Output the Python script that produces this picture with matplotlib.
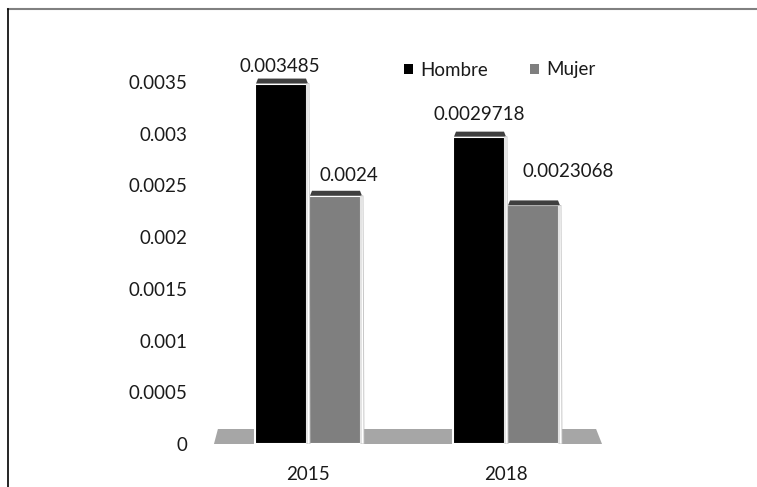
import matplotlib.pyplot as plt
from matplotlib.patches import Polygon, Patch
from matplotlib.lines import Line2D

years = ['2015', '2018']
hombre = [0.003485, 0.0029718]
mujer = [0.0024, 0.0023068]
series_names = ['Hombre', 'Mujer']
yticks = [0, 0.0005, 0.001, 0.0015, 0.002, 0.0025, 0.003, 0.0035]
ytick_labels = ['0', '0.0005', '0.001', '0.0015', '0.002', '0.0025', '0.003', '0.0035']

plt.rcParams['font.family'] = ['Lato', 'DejaVu Sans']
txt = '#1a1a1a'
fs = 13.5

W, H = 757, 487
fig = plt.figure(figsize=(W / 100, H / 100), dpi=100)
ax_l, ax_b, ax_w, ax_h = 189.2, 43.0, 435.6, 413.7
ax = fig.add_axes([ax_l / W, ax_b / H, ax_w / W, ax_h / H])
ax.set_xlim(-0.6, 1.6)
ax.set_ylim(0, 0.004)

# pixel -> data scale
sx = 2.2 / ax_w
sy = 0.004 / ax_h

# floor
fh = 15 * sy
floor = Polygon([[-0.475, 0], [1.485, 0], [1.455, fh], [-0.455, fh]],
                closed=True, facecolor='#a6a6a6', edgecolor='none', zorder=1)
ax.add_patch(floor)

x = list(range(len(years)))
bw = 52 * sx
off = 27 * sx
colors = ['#000000', '#7f7f7f']
label_offsets = [[(-1, 17), (0, 22)], [(14, 20), (35, 34)]]

for s, (vals, col) in enumerate(zip([hombre, mujer], colors)):
    xs = [xi + (off if s else -off) for xi in x]
    ax.bar(xs, vals, width=bw, color=col, edgecolor='white', linewidth=1.5, zorder=2)
    for i, (xc, v) in enumerate(zip(xs, vals)):
        x0, x1 = xc - bw / 2, xc + bw / 2
        # top face
        top = Polygon([[x0 + 1 * sx, v], [x1 + 1 * sx, v], [x1 - 1 * sx, v + 5 * sy],
                       [x0 + 3 * sx, v + 5 * sy]],
                      closed=True, facecolor='#3f3f3f', edgecolor='none', zorder=3)
        ax.add_patch(top)
        # side face
        side = Polygon([[x1, 0], [x1, v], [x1 + 2 * sx, v], [x1 + 3 * sx, 0]],
                       closed=True, facecolor='white', edgecolor='#bfbfbf',
                       linewidth=0.6, zorder=3)
        ax.add_patch(side)
        dx, dy = label_offsets[s][i]
        ax.annotate(str(v), (xc, v), xytext=(dx * 0.72, dy * 0.72),
                    textcoords='offset points', ha='center', va='center',
                    fontsize=fs, color=txt, annotation_clip=False)

ax.set_yticks(yticks)
ax.set_yticklabels(ytick_labels)
ax.set_xticks(x)
ax.set_xticklabels(years)
ax.tick_params(axis='both', length=0, labelsize=fs, labelcolor=txt)
ax.tick_params(axis='y', pad=1)
ax.tick_params(axis='x', pad=16)
for sp in ax.spines.values():
    sp.set_visible(False)

handles = [Patch(facecolor=c, edgecolor='none') for c in colors]
fig.legend(handles, series_names, loc='center left', bbox_to_anchor=(387 / W, 1 - 70 / H),
           ncol=2, frameon=False, fontsize=fs, handlelength=0.5, handleheight=0.5,
           handletextpad=0.4, columnspacing=2.2, labelcolor=txt)

# outer frame lines
fig.add_artist(Line2D([8 / W, 1], [1 - 9 / H, 1 - 9 / H], color='#808080', linewidth=1.5))
fig.add_artist(Line2D([8 / W, 8 / W], [0, 1 - 9 / H], color='black', linewidth=1.2))

fig.savefig('out.png', dpi=100)
